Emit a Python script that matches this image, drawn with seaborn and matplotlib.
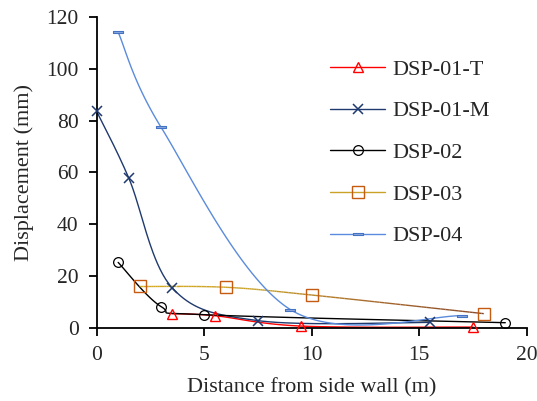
import numpy as np
import pandas as pd
import seaborn as sns
import matplotlib.pyplot as plt
from matplotlib.lines import Line2D
from matplotlib.collections import LineCollection
from matplotlib.colors import LinearSegmentedColormap

# data
x_01t = [3.5, 5.5, 9.5, 17.5]
y_01t = [5.4, 4.6, 0.6, 0.2]
x_01m = [0, 1.5, 3.5, 7.5, 15.5]
y_01m = [83.6, 57.7, 15.5, 2.7, 2.0]
x_02 = [1, 3, 5, 19]
y_02 = [25.2, 8.1, 5.0, 1.9]
x_03 = [2, 6, 10, 18]
y_03 = [15.9, 15.6, 12.6, 5.4]
x_04 = [1, 3, 9, 17]
y_04 = [114.2, 77.4, 7.0, 4.6]
labels = ["DSP-01-T", "DSP-01-M", "DSP-02", "DSP-03", "DSP-04"]


def smooth(xs, ys, n=40):
    # Excel-like smoothed line (Catmull-Rom as cubic Bezier)
    p = np.column_stack([xs, ys]).astype(float)
    p = np.vstack([p[0], p, p[-1]])
    out = []
    t = np.linspace(0, 1, n)[:, None]
    for i in range(1, len(p) - 2):
        p0, p1, p2, p3 = p[i - 1], p[i], p[i + 1], p[i + 2]
        c1 = p1 + (p2 - p0) / 6
        c2 = p2 - (p3 - p1) / 6
        seg = ((1 - t) ** 3) * p1 + 3 * ((1 - t) ** 2) * t * c1 + 3 * (1 - t) * t ** 2 * c2 + t ** 3 * p2
        out.append(seg if i == 1 else seg[1:])
    out = np.vstack(out)
    return out[:, 0], out[:, 1]


sns.set_style("ticks")
plt.rcParams["font.family"] = ["Liberation Serif", "DejaVu Serif"]

fig = plt.figure(figsize=(5.37, 4.01), dpi=100)
ax = fig.add_axes([0.180, 0.183, 0.801, 0.774])

rect = [(-1, -0.3), (1, -0.3), (1, 0.3), (-1, 0.3), (-1, -0.3)]

series = [
    (x_01t, y_01t, "#ff0000", dict(marker="^", mfc="none", mec="#ff0000", ms=7, mew=1)),
    (x_01m, y_01m, "#1f3a6e", dict(marker="x", mfc="none", mec="#1f3a6e", ms=7, mew=1.1)),
    (x_02, y_02, "#000000", dict(marker="o", mfc="none", mec="#000000", ms=7, mew=0.9)),
    (x_03, y_03, "#c9a227", dict(marker="s", mfc="none", mec="#c55a11", ms=8, mew=1)),
    (x_04, y_04, "#5b8bdc", dict(marker=rect, mfc="#8faadc", mec="#4472c4", ms=6.5, mew=0.8)),
]

handles = []
for i, (xs, ys, col, mk) in enumerate(series):
    sx, sy = smooth(xs, ys)
    if i == 3:
        # gold to brown gradient line
        pts = np.column_stack([sx, sy]).reshape(-1, 1, 2)
        segs = np.concatenate([pts[:-1], pts[1:]], axis=1)
        cmap = LinearSegmentedColormap.from_list("g", ["#d4a820", "#c9a227", "#a86a2c", "#8b4a2a"])
        lc = LineCollection(segs, cmap=cmap, linewidth=1.0, zorder=2)
        lc.set_array((sx[:-1] - 2) / 16)
        ax.add_collection(lc)
    else:
        df = pd.DataFrame({"x": sx, "y": sy})
        sns.lineplot(data=df, x="x", y="y", sort=False, estimator=None, color=col,
                     linewidth=1.0, ax=ax, zorder=2)
    ax.plot(xs, ys, linestyle="none", zorder=3, clip_on=False, **mk)
    handles.append(Line2D([], [], color=col, linewidth=1.0, **mk))

ax.set_xlim(0, 20)
ax.set_ylim(0, 120)
ax.set_xticks([0, 5, 10, 15, 20])
ax.set_yticks([0, 20, 40, 60, 80, 100, 120])
ax.tick_params(direction="out", length=6, width=1.3, labelsize=15.5, pad=7, color="black")
for s in ["left", "bottom"]:
    ax.spines[s].set_linewidth(1.3)
    ax.spines[s].set_color("black")
sns.despine(ax=ax)

ax.set_xlabel("Distance from side wall (m)", fontsize=16, labelpad=10)
ax.set_ylabel("Displacement (mm)", fontsize=16, labelpad=9)

ax.legend(handles, labels, loc="center left", bbox_to_anchor=(0.542, 0.563),
          frameon=False, fontsize=16, handlelength=2.5, handletextpad=0.3,
          labelspacing=0.95, borderpad=0, borderaxespad=0)

fig.savefig("out.png", dpi=100)
